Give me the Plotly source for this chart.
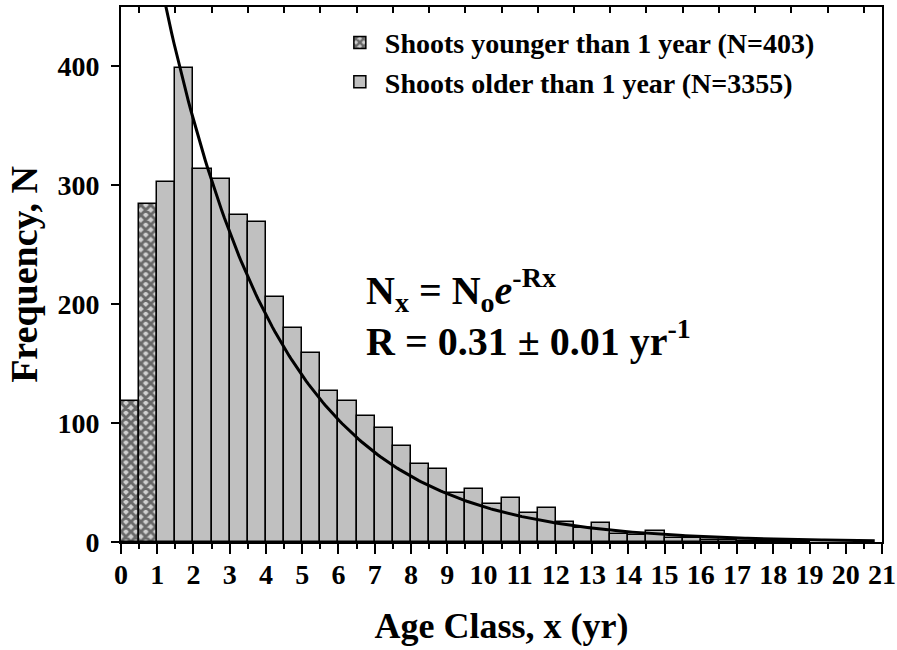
import numpy as np
import plotly.graph_objects as go

# ---- data ----
young_edges = [0.0, 0.5]
young_counts = [119, 284]

old_edges = [1.0, 1.5, 2.0, 2.5, 3.0, 3.5, 4.0, 4.5, 5.0, 5.5, 6.0, 6.5, 7.0, 7.5,
             8.0, 8.5, 9.0, 9.5, 10.0, 10.5, 11.0, 11.5, 12.0, 12.5, 13.0, 13.5,
             14.0, 14.5, 15.0, 15.5, 16.0, 16.5, 17.0, 17.5, 18.0, 18.5]
old_counts = [303, 399, 314, 305, 275, 269, 206, 180, 159, 127, 119, 106, 96, 81,
              66, 61, 41, 45, 32, 37, 24, 29, 17, 12, 16, 7,
              6, 9, 3, 3, 2, 2, 1, 1, 1, 1]

bin_width = 0.5
N0 = 660.0   # fitted intercept
R = 0.31     # fitted rate, yr^-1
fit_x_start, fit_x_end = 1.0, 20.8

x_tick_vals = list(range(0, 22))
y_tick_vals = [0, 100, 200, 300, 400]

FONT = "Liberation Serif, Times New Roman, serif"

young_x = [e + bin_width / 2 for e in young_edges]
old_x = [e + bin_width / 2 for e in old_edges]
fx = np.linspace(fit_x_start, fit_x_end, 300)
fy = N0 * np.exp(-R * fx)

fig = go.Figure()
fig.add_trace(go.Bar(
    x=young_x, y=young_counts, width=bin_width,
    name="<b>Shoots younger than 1 year (N=403)</b>",
    marker=dict(color="#d0d0d0", line=dict(color="black", width=1.5),
                pattern=dict(shape="x", size=7, solidity=0.65,
                             fgcolor="black", bgcolor="#d0d0d0")),
))
fig.add_trace(go.Bar(
    x=old_x, y=old_counts, width=bin_width,
    name="<b>Shoots older than 1 year (N=3355)</b>",
    marker=dict(color="#c0c0c0", line=dict(color="black", width=1.5)),
))
fig.add_trace(go.Scatter(
    x=fx, y=fy, mode="lines", line=dict(color="black", width=3),
    showlegend=False, hoverinfo="skip",
))
# invisible trace to carry the top tick axis
fig.add_trace(go.Scatter(x=[0, 21], y=[0, 0], xaxis="x2", mode="lines",
                         line=dict(width=0), showlegend=False, hoverinfo="skip"))

fig.update_layout(
    width=897, height=650,
    margin=dict(l=121, r=15, t=7, b=108),
    paper_bgcolor="white", plot_bgcolor="white",
    barmode="overlay", bargap=0,
    font=dict(family=FONT, color="black"),
    showlegend=True,
    legend=dict(x=0.281, y=0.98, xanchor="left", yanchor="top",
                bgcolor="rgba(0,0,0,0)", font=dict(size=28, family=FONT),
                itemwidth=40, tracegroupgap=0),
    xaxis=dict(range=[0, 21], tickvals=x_tick_vals, ticks="outside",
               ticklen=10, tickwidth=1.5, tickcolor="black",
               minor=dict(dtick=0.5, tick0=0, ticks="outside", ticklen=5,
                          tickwidth=1.5, tickcolor="black"),
               showline=True, linewidth=2, linecolor="black", mirror=True,
               showgrid=False, zeroline=False, automargin=False,
               ticklabeloverflow="allow", ticklabelstandoff=-4,
               tickfont=dict(size=28, family=FONT, weight="bold"),
               title=dict(text="<b>Age Class, x (yr)</b>",
                          font=dict(size=36, family=FONT), standoff=24)),
    xaxis2=dict(range=[0, 21], overlaying="x", side="top", anchor="y",
                tickvals=[v + 0.5 for v in x_tick_vals[:-1]],
                ticks="inside", ticklen=6, tickwidth=1.5, tickcolor="black",
                showticklabels=False, showline=False, showgrid=False,
                zeroline=False, automargin=False),
    yaxis=dict(range=[0, 450], tickvals=y_tick_vals, ticks="outside",
               ticklen=8, tickwidth=1.5, tickcolor="black",
               showline=True, linewidth=2, linecolor="black", mirror=True,
               showgrid=False, zeroline=False, automargin=False,
               ticklabelstandoff=6,
               tickfont=dict(size=28, family=FONT, weight="bold"),
               title=dict(text="<b>Frequency, N</b>",
                          font=dict(size=38, family=FONT), standoff=8)),
)

fig.add_annotation(x=6.7, y=212, xref="x", yref="y", xanchor="left",
                   showarrow=False,
                   text="<b>N<sub>x</sub> = N<sub>o</sub><i>e</i><sup>-Rx</sup></b>",
                   font=dict(size=40, family=FONT))
fig.add_annotation(x=6.7, y=171, xref="x", yref="y", xanchor="left",
                   showarrow=False,
                   text="<b>R = 0.31 ± 0.01 yr<sup>-1</sup></b>",
                   font=dict(size=40, family=FONT))

# remove the page's default body margin so the figure fills the window exactly
fig.write_html("out.html",
               config={"displayModeBar": False},
               post_script="document.body.style.margin='0';"
                           "document.body.style.overflow='hidden';")
